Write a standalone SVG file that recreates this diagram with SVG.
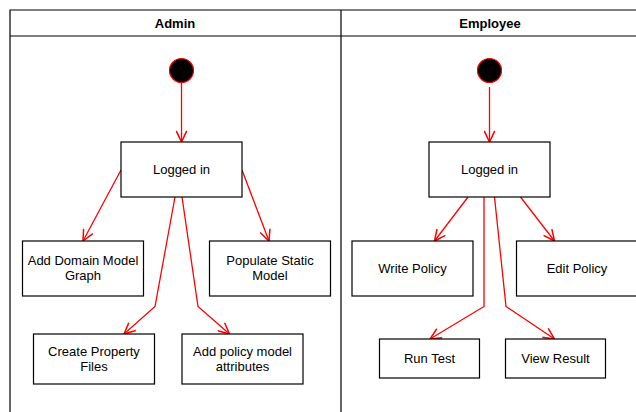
<svg xmlns="http://www.w3.org/2000/svg" width="636" height="412" viewBox="0 0 636 412">
<style>
.lane{fill:none;stroke:#000;stroke-width:1.2}
.node{fill:#fff;stroke:#000;stroke-width:1.2}
.t{font-family:"Liberation Sans",Arial,sans-serif;font-size:13px;fill:#000;text-anchor:middle}
.h{font-family:"Liberation Sans",Arial,sans-serif;font-size:13px;font-weight:bold;fill:#000;text-anchor:middle}
.start{fill:#000;stroke:#f00;stroke-width:1.2}
.e{fill:none;stroke:#f00;stroke-width:1.3;marker-end:url(#arr)}
</style>
<defs>
<marker id="arr" markerUnits="userSpaceOnUse" markerWidth="14" markerHeight="12" refX="10" refY="5" orient="auto" viewBox="0 0 12 10">
<path d="M0.5,0.5 L10,5 L0.5,9.5" fill="none" stroke="#f00" stroke-width="1.3"/>
</marker>
</defs>
<g id="lanes">
<path class="lane" d="M10,414 L10,10 L640,10 M10,36 L640,36 M341,10 L341,414"/>
<text class="h" x="175" y="28">Admin</text>
<text class="h" x="490" y="28">Employee</text>
</g>
<g id="connectors">
<path class="e" d="M181.5,83 L181.5,142"/>
<path class="e" d="M121,170 L83,241"/>
<path class="e" d="M242,170 L269,241"/>
<path class="e" d="M175,197 L155,306.5 L124,334"/>
<path class="e" d="M182,197 L198,306.5 L229.5,334"/>
<path class="e" d="M489.5,87 L489.5,142"/>
<path class="e" d="M468,197 L434.5,241"/>
<path class="e" d="M520.5,197 L554.5,241"/>
<path class="e" d="M484,197 L484,306.5 L430,339"/>
<path class="e" d="M494.5,197 L506,306.5 L554.5,339"/>
</g>
<g id="start-admin"><circle class="start" cx="181.5" cy="70.5" r="12"/></g>
<g id="start-employee"><circle class="start" cx="489.5" cy="70.5" r="12"/></g>
<g id="admin-logged"><rect class="node" x="121" y="142" width="121" height="55"/><text class="t" x="181.5" y="174">Logged in</text></g>
<g id="add-domain"><rect class="node" x="22.5" y="241" width="121" height="55"/><text class="t" x="83" y="265">Add Domain Model</text><text class="t" x="83" y="280">Graph</text></g>
<g id="populate"><rect class="node" x="209.5" y="241" width="121" height="55"/><text class="t" x="270" y="265">Populate Static</text><text class="t" x="270" y="280">Model</text></g>
<g id="create-prop"><rect class="node" x="33.5" y="334" width="121" height="50"/><text class="t" x="94" y="356">Create Property</text><text class="t" x="94" y="371">Files</text></g>
<g id="add-policy"><rect class="node" x="182" y="334" width="121" height="50"/><text class="t" x="242.5" y="356">Add policy model</text><text class="t" x="242.5" y="371">attributes</text></g>
<g id="emp-logged"><rect class="node" x="429" y="142" width="121" height="55"/><text class="t" x="489.5" y="174">Logged in</text></g>
<g id="write-policy"><rect class="node" x="352" y="241" width="121" height="55"/><text class="t" x="412.5" y="273">Write Policy</text></g>
<g id="edit-policy"><rect class="node" x="516.5" y="241" width="121" height="55"/><text class="t" x="577" y="273">Edit Policy</text></g>
<g id="run-test"><rect class="node" x="379.5" y="339" width="100" height="39"/><text class="t" x="429.5" y="363">Run Test</text></g>
<g id="view-result"><rect class="node" x="505.5" y="339" width="100" height="39"/><text class="t" x="555.5" y="363">View Result</text></g>
</svg>
